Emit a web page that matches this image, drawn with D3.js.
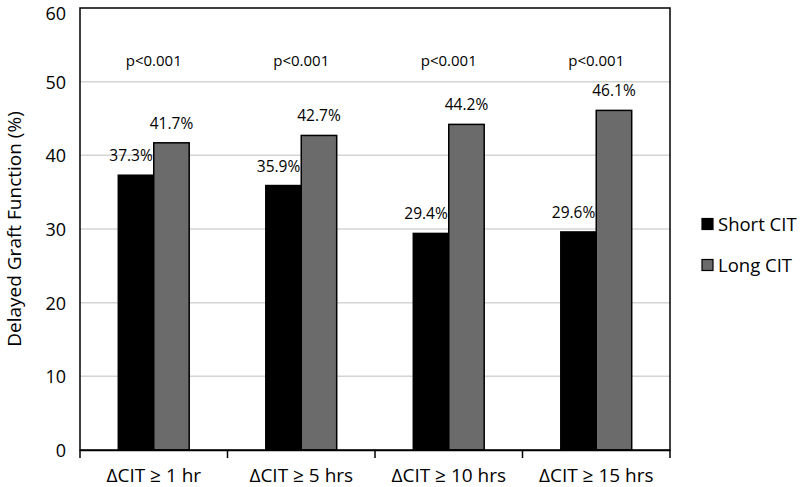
<!DOCTYPE html>
<html>
<head>
<meta charset="utf-8">
<script src="https://cdn.jsdelivr.net/npm/d3@7/dist/d3.min.js"></script>
<style>
  html, body { margin: 0; padding: 0; background: #fff; }
  svg { display: block; font-family: "Open Sans", Carlito, Lato, sans-serif; }
</style>
</head>
<body>
<svg id="chart" width="800" height="487"></svg>
<script>
const categories = ["\u0394CIT \u2265 1 hr", "\u0394CIT \u2265 5 hrs", "\u0394CIT \u2265 10 hrs", "\u0394CIT \u2265 15 hrs"];
const seriesNames = ["Short CIT", "Long CIT"];
const shortCIT = [37.3, 35.9, 29.4, 29.6];
const longCIT = [41.7, 42.7, 44.2, 46.1];
const pValues = ["p<0.001", "p<0.001", "p<0.001", "p<0.001"];
const yTicks = [0, 10, 20, 30, 40, 50, 60];
const colors = ["#000000", "#6b6b6b"];

const svg = d3.select("#chart");
const m = { left: 80, right: 670, top: 8, bottom: 450 };

const x = d3.scaleBand().domain(categories).range([m.left, m.right]).padding(0);
const xi = d3.scaleBand().domain(seriesNames).range([0, x.bandwidth()]).paddingInner(0).paddingOuter(1.08);
const y = d3.scaleLinear().domain([0, 60]).range([m.bottom, m.top]);

// gridlines
svg.append("g").selectAll("line").data(yTicks.filter(t => t > 0 && t < 60)).join("line")
  .attr("x1", m.left).attr("x2", m.right)
  .attr("y1", d => y(d)).attr("y2", d => y(d))
  .attr("stroke", "#d4d4d4").attr("stroke-width", 1.5);

// y tick labels
svg.append("g").selectAll("text").data(yTicks).join("text")
  .attr("x", 66).attr("y", d => Math.max(y(d) + 7, 20))
  .attr("text-anchor", "end")
  .attr("font-size", 18).attr("fill", "#000")
  .text(d => d);

// bars
const rows = categories.map((c, i) => ({ cat: c, vals: [shortCIT[i], longCIT[i]], p: pValues[i] }));
const groups = svg.append("g").selectAll("g").data(rows).join("g")
  .attr("transform", d => `translate(${x(d.cat)},0)`);

groups.selectAll("rect").data(d => d.vals.map((v, j) => ({ s: seriesNames[j], v, j }))).join("rect")
  .attr("x", d => xi(d.s)).attr("width", xi.bandwidth())
  .attr("y", d => y(d.v)).attr("height", d => y(0) - y(d.v))
  .attr("fill", d => colors[d.j]).attr("stroke", "#000").attr("stroke-width", 1.5);

groups.selectAll("text.val").data(d => d.vals.map((v, j) => ({ s: seriesNames[j], v, j }))).join("text")
  .attr("class", "val")
  .attr("x", d => xi(d.s) + xi.bandwidth() / 2 + (d.j === 0 ? -5 : 0))
  .attr("y", d => y(d.v) - 14)
  .attr("text-anchor", "middle")
  .attr("font-size", 15.5).attr("fill", "#000")
  .text(d => d.v.toFixed(1) + "%");

groups.append("text")
  .attr("x", x.bandwidth() / 2).attr("y", 66)
  .attr("text-anchor", "middle")
  .attr("font-size", 15).attr("fill", "#000")
  .text(d => d.p);

// frame
svg.append("rect").attr("x", m.left).attr("y", m.top)
  .attr("width", m.right - m.left).attr("height", m.bottom - m.top)
  .attr("fill", "none").attr("stroke", "#000").attr("stroke-width", 1.5);

// x axis
const xAxis = svg.append("g").attr("transform", `translate(0,${m.bottom})`)
  .call(d3.axisBottom(x).tickSize(0));
xAxis.select(".domain").attr("stroke", "#000").attr("stroke-width", 1.5);
xAxis.selectAll("text").attr("font-size", 19).attr("fill", "#000")
  .attr("font-family", "'Open Sans', sans-serif")
  .attr("y", 32).attr("dy", 0);
const boundaries = categories.map(c => x(c)).concat([m.right]);
svg.append("g").selectAll("line").data(boundaries).join("line")
  .attr("x1", d => d).attr("x2", d => d)
  .attr("y1", m.bottom).attr("y2", m.bottom + 8)
  .attr("stroke", "#000").attr("stroke-width", 1.5);

// y title
svg.append("text")
  .attr("transform", `translate(21,${(m.top + m.bottom) / 2}) rotate(-90)`)
  .attr("text-anchor", "middle")
  .attr("font-size", 19).attr("fill", "#000")
  .text("Delayed Graft Function (%)");

// legend
const legend = svg.append("g").selectAll("g").data(seriesNames).join("g")
  .attr("transform", (d, i) => `translate(702,${224 + i * 41})`);
legend.append("rect").attr("x", 0).attr("y", -5.5).attr("width", 11).attr("height", 11)
  .attr("fill", (d, i) => colors[i]).attr("stroke", "#000").attr("stroke-width", 1.2);
legend.append("text").attr("x", 16).attr("y", 7)
  .attr("font-size", 18.5).attr("fill", "#000")
  .text(d => d);
</script>
</body>
</html>
